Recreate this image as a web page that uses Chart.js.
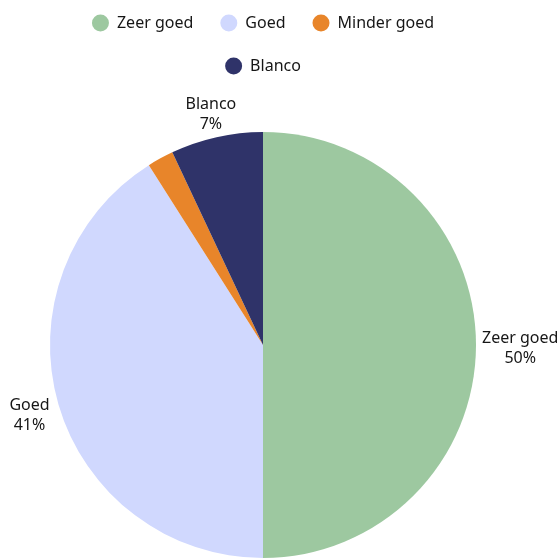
<!DOCTYPE html>
<html>
<head>
<meta charset="utf-8">
<script src="https://cdn.jsdelivr.net/npm/chart.js@4.4.1/dist/chart.umd.min.js"></script>
<style>
  html, body { margin: 0; padding: 0; background: #fff; }
  #wrap { width: 559px; height: 558px; }
</style>
</head>
<body>
<div id="wrap"><canvas id="pieChart"></canvas></div>
<script>
// Données du graphique
const categories = ['Zeer goed', 'Goed', 'Minder goed', 'Blanco'];
const values = [50, 41, 2, 7];
const colors = ['#9dc8a0', '#d0d8fe', '#e8852a', '#2f3369'];

const FONT = '"Noto Sans", sans-serif';
const FONT_SIZE = 16;

// Étiquettes à l'extérieur des parts (nom + pourcentage)
const outsideLabels = {
    id: 'outsideLabels',
    afterDatasetsDraw(chart) {
        const ctx = chart.ctx;
        const meta = chart.getDatasetMeta(0);
        const total = values.reduce((a, b) => a + b, 0);
        ctx.save();
        ctx.font = FONT_SIZE + 'px ' + FONT;
        ctx.fillStyle = '#161616';
        ctx.textAlign = 'center';
        ctx.textBaseline = 'middle';
        meta.data.forEach((arc, i) => {
            const pct = Math.round(values[i] / total * 100);
            if (pct < 5) return; // trop petit, pas d'étiquette
            const p = arc.getProps(['x', 'y', 'startAngle', 'endAngle', 'outerRadius'], true);
            const mid = (p.startAngle + p.endAngle) / 2;
            const dx = Math.cos(mid), dy = Math.sin(mid);
            const lines = [categories[i], pct + '%'];
            const w = Math.max(...lines.map(l => ctx.measureText(l).width)) + 8;
            const h = lines.length * 20 - 4;
            const ext = Math.abs(dx) * w / 2 + Math.abs(dy) * h / 2;
            const cx = p.x + dx * (p.outerRadius + 2 + ext);
            const cy = p.y + dy * (p.outerRadius + 2 + ext) + 3;
            lines.forEach((l, k) => {
                ctx.fillText(l, cx, cy + (k - (lines.length - 1) / 2) * 20);
            });
        });
        ctx.restore();
    }
};

// Espace supplémentaire sous la légende
const legendSpacing = {
    id: 'legendSpacing',
    beforeInit(chart) {
        const origFit = chart.legend.fit;
        chart.legend.fit = function () {
            origFit.bind(chart.legend)();
            this.height += 48;
        };
    }
};

new Chart(document.getElementById('pieChart'), {
    type: 'pie',
    data: {
        labels: categories,
        datasets: [{
            data: values,
            backgroundColor: colors,
            borderWidth: 0
        }]
    },
    options: {
        responsive: true,
        maintainAspectRatio: false,
        animation: false,
        layout: {
            padding: { top: -12, left: 50, right: 83, bottom: 0 }
        },
        plugins: {
            legend: {
                display: true,
                position: 'top',
                labels: {
                    usePointStyle: true,
                    pointStyle: 'circle',
                    boxHeight: 12,
                    pointStyleWidth: 17,
                    padding: 27,
                    color: '#161616',
                    font: { family: FONT, size: FONT_SIZE }
                }
            },
            tooltip: { enabled: false }
        }
    },
    plugins: [outsideLabels, legendSpacing]
});
</script>
</body>
</html>
